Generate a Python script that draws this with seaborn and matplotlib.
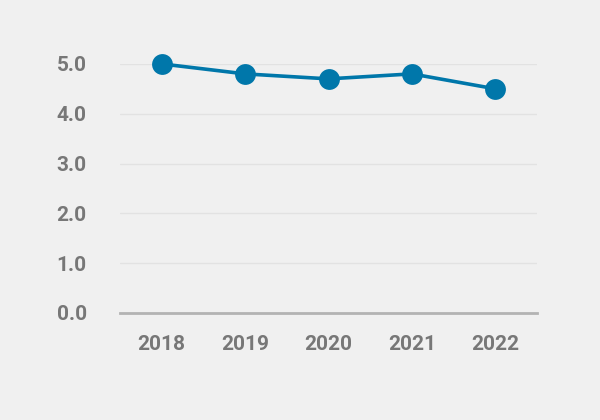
import pandas as pd
import matplotlib.pyplot as plt
import seaborn as sns

years = ["2018", "2019", "2020", "2021", "2022"]
values = [5.0, 4.8, 4.7, 4.8, 4.5]
y_ticks = [0.0, 1.0, 2.0, 3.0, 4.0, 5.0]

df = pd.DataFrame({"Year": years, "Value": values})

sns.set_theme(style="white")
plt.rcParams['font.family'] = ['Liberation Sans Narrow', 'Roboto', 'DejaVu Sans']

bg = "#f0f0f0"
fig = plt.figure(figsize=(6, 4.2), dpi=100, facecolor=bg)
ax = fig.add_axes([0.2, 0.2548, 0.695, 0.593])
ax.set_facecolor(bg)

sns.lineplot(data=df, x="Year", y="Value", ax=ax, color="#0077aa", linewidth=2.6,
             marker="o", markersize=15, markeredgewidth=0, sort=False, clip_on=False)

ax.set_xlim(-0.5, 4.5)
ax.set_ylim(0, 5.0)
ax.set_yticks(y_ticks)
ax.set_yticklabels([f"{v:.1f}" for v in y_ticks])
ax.yaxis.grid(True, color="#e2e2e2", linewidth=1)
ax.set_axisbelow(True)
for s in ["top", "right", "left"]:
    ax.spines[s].set_visible(False)
ax.spines["bottom"].set_color("#b3b3b3")
ax.spines["bottom"].set_linewidth(2)
ax.tick_params(axis="both", length=0, labelsize=15, labelcolor="#777777")
ax.tick_params(axis="y", pad=24)
ax.tick_params(axis="x", pad=16)
for lbl in ax.get_xticklabels() + ax.get_yticklabels():
    lbl.set_fontweight("bold")
ax.set_xlabel("")
ax.set_ylabel("")

fig.savefig("out.png", dpi=100, facecolor=bg)
